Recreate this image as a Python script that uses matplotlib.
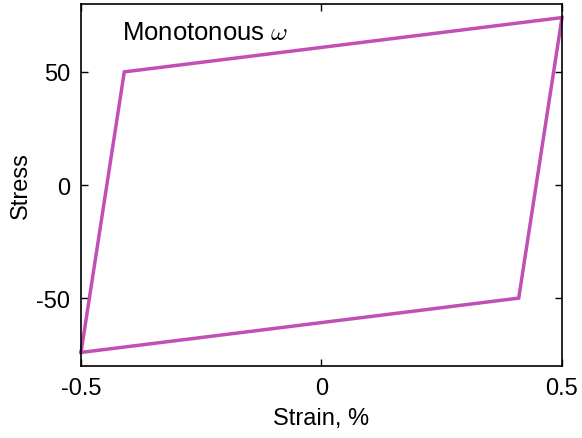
import matplotlib
matplotlib.use("Agg")
import matplotlib.pyplot as plt

plt.rcParams['font.family'] = ['Liberation Sans', 'DejaVu Sans']
plt.rcParams['mathtext.fontset'] = 'cm'

strain = [-0.5, -0.41, 0.5, 0.41, -0.5]
stress = [-74, 50, 74, -50, -74]
xticks = [-0.5, 0, 0.5]
xticklabels = ['-0.5', '0', '0.5']
yticks = [-50, 0, 50]
yticklabels = ['-50', '0', '50']

fig = plt.figure(figsize=(5.82, 4.39), dpi=100)
ax = fig.add_axes([81/582, 1-367/439, (562-81)/582, (367-5)/439])
ax.plot(strain, stress, color='#C050B4', lw=2.5, solid_joinstyle='miter', clip_on=False)
ax.set_xlim(-0.5, 0.5)
ax.set_ylim(-80, 80)
ax.set_xticks(xticks)
ax.set_xticklabels(xticklabels)
ax.set_yticks(yticks)
ax.set_yticklabels(yticklabels)
ax.tick_params(direction='in', top=True, right=True, length=5, width=1, labelsize=17, pad=8)
for s in ax.spines.values():
    s.set_linewidth(1.2)
ax.set_xlabel('Strain, %', fontsize=17, labelpad=6)
ax.set_ylabel('Stress', fontsize=17)
ax.yaxis.set_label_coords(-0.102, 0.5)
ax.text(0.085, 0.955, r'Monotonous $\omega$', transform=ax.transAxes, fontsize=18.5, va='top', ha='left')
fig.savefig('out.png', dpi=100)
